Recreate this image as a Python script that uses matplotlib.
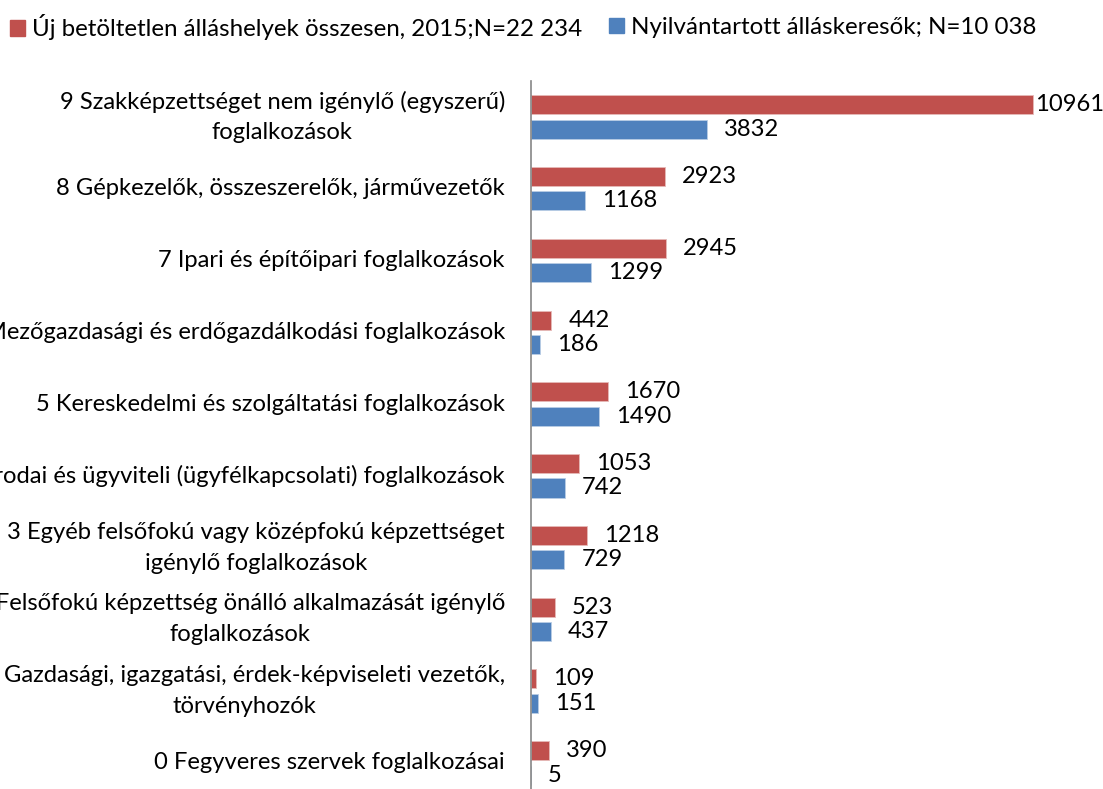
import matplotlib
matplotlib.use("Agg")
import matplotlib.pyplot as plt
from matplotlib.patches import Patch
import numpy as np

categories = [
    "0 Fegyveres szervek foglalkozásai",
    "1 Gazdasági, igazgatási, érdek-képviseleti vezetők,\ntörvényhozók",
    "2 Felsőfokú képzettség önálló alkalmazását igénylő\nfoglalkozások",
    "3 Egyéb felsőfokú vagy középfokú képzettséget\nigénylő foglalkozások",
    "4 Irodai és ügyviteli (ügyfélkapcsolati) foglalkozások",
    "5 Kereskedelmi és szolgáltatási foglalkozások",
    "6 Mezőgazdasági és erdőgazdálkodási foglalkozások",
    "7 Ipari és építőipari foglalkozások",
    "8 Gépkezelők, összeszerelők, járművezetők",
    "9 Szakképzettséget nem igénylő (egyszerű)\nfoglalkozások",
]
vacancies = [390, 109, 523, 1218, 1053, 1670, 442, 2945, 2923, 10961]
jobseekers = [5, 151, 437, 729, 742, 1490, 186, 1299, 1168, 3832]
series_names = ["Új betöltetlen álláshelyek összesen, 2015;N=22 234",
                "Nyilvántartott álláskeresők; N=10 038"]

RED = "#C0504D"
BLUE = "#4F81BD"
FONT = "Lato"
FS = 17.1
FS_LEG = 17.4

W, H = 1103, 789
fig = plt.figure(figsize=(W / 100, H / 100), dpi=100)
ax_left = 531 / W
ax_right = 1081 / W
ax_top = (H - 81) / H
ax_h = 717.8 / H
ax = fig.add_axes([ax_left, ax_top - ax_h, ax_right - ax_left, ax_h])

y = np.arange(len(categories))
off = 0.17
bh = 0.265
ax.barh(y + off, vacancies, height=bh, color=RED, edgecolor="#E6B9B8", linewidth=0.6)
ax.barh(y - off, jobseekers, height=bh, color=BLUE, edgecolor="#B9CDE5", linewidth=0.6)

ax.set_xlim(0, 12000)
ax.set_ylim(-0.5, len(categories) - 0.5)
ax.set_yticks(y)
ax.set_yticklabels(categories, fontsize=FS, family=FONT, color="black",
                   multialignment="center", linespacing=1.58, va="center")
ax.tick_params(axis="y", length=0, pad=18.8)
ax.set_xticks([])
for s in ["top", "right", "bottom"]:
    ax.spines[s].set_visible(False)
ax.spines["left"].set_color("#868686")
ax.spines["left"].set_linewidth(1.2)

px = (12000 - 0) / (ax_right - ax_left) / W  # data units per pixel
for vals, dy in ((vacancies, off), (jobseekers, -off)):
    for yi, v in zip(y, vals):
        o = 17 * px
        if v > 10000:
            o = 2 * px
        ax.text(v + o, yi + dy, str(v), va="center", ha="left",
                fontsize=FS, family=FONT, color="black", clip_on=False)

colors = [RED, BLUE]
leg_x = [10, 609]
for name, c, lx in zip(series_names, colors, leg_x):
    fig.legend([Patch(facecolor=c, edgecolor=c)], [name], loc="center left",
               bbox_to_anchor=(lx / W, 1 - 27.5 / H), frameon=False,
               prop={"family": FONT, "size": FS_LEG},
               handlelength=0.62, handleheight=0.62, handletextpad=0.3,
               borderaxespad=0, borderpad=0)

fig.savefig("out.png", dpi=100)
